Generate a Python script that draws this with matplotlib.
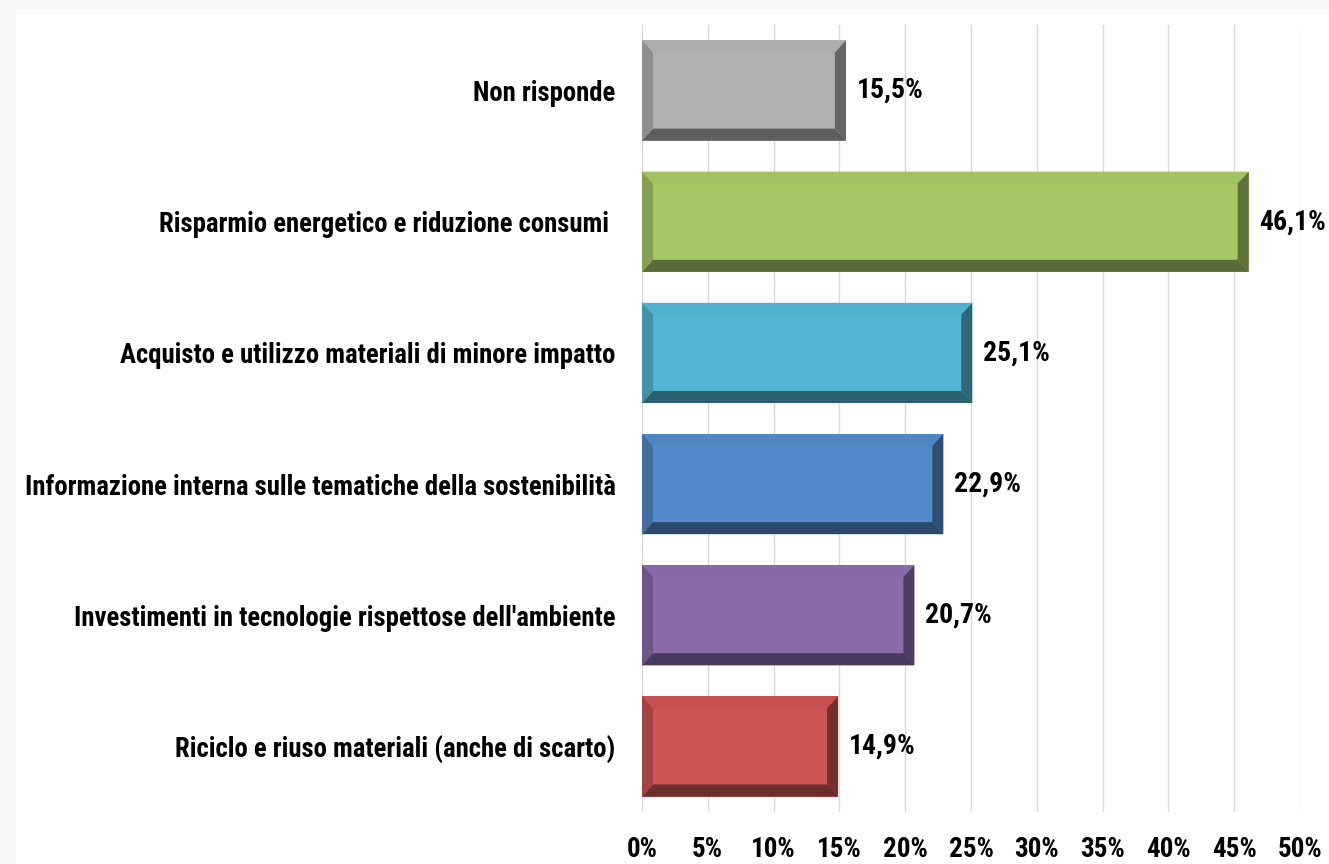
import matplotlib
matplotlib.use("Agg")
import matplotlib.pyplot as plt
from matplotlib import font_manager
from matplotlib.patches import Polygon, Rectangle
from matplotlib.colors import to_rgb
import numpy as np

# Dati (dall'alto verso il basso)
categorie = [
    "Non risponde",
    "Risparmio energetico e riduzione consumi ",
    "Acquisto e utilizzo materiali di minore impatto",
    "Informazione interna sulle tematiche della sostenibilità",
    "Investimenti in tecnologie rispettose dell'ambiente",
    "Riciclo e riuso materiali (anche di scarto)",
]
percentuali = [15.5, 46.1, 25.1, 22.9, 20.7, 14.9]
colori = ["#b1b1b1", "#a6c866", "#52b6d2", "#5589c9", "#8a6cab", "#cc5452"]
tick_valori = [0, 5, 10, 15, 20, 25, 30, 35, 40, 45, 50]

# font stretto, se disponibile
disponibili = {f.name for f in font_manager.fontManager.ttflist}
famiglia = 'DejaVu Sans'
for nome in ['Liberation Sans Narrow', 'Roboto Condensed', 'Open Sans Condensed', 'Liberation Sans']:
    if nome in disponibili:
        famiglia = nome
        break
plt.rcParams['font.family'] = [famiglia, 'DejaVu Sans']
plt.rcParams['font.weight'] = 'bold'


def scurisci(colore, f):
    r, g, b = to_rgb(colore)
    return (min(r * f, 1), min(g * f, 1), min(b * f, 1))


def barra_smussata(ax, y, valore, colore, altezza=0.764, bx=0.84, by=0.092):
    yt = y - altezza / 2
    yb = y + altezza / 2
    # faccia centrale
    ax.add_patch(Rectangle((0, yt), valore, altezza, facecolor=colore, edgecolor='none', zorder=3))
    sopra = [(0, yt), (valore, yt), (valore - bx, yt + by), (bx, yt + by)]
    sotto = [(0, yb), (valore, yb), (valore - bx, yb - by), (bx, yb - by)]
    sinistra = [(0, yt), (bx, yt + by), (bx, yb - by), (0, yb)]
    destra = [(valore, yt), (valore - bx, yt + by), (valore - bx, yb - by), (valore, yb)]
    ax.add_patch(Polygon(sopra, closed=True, facecolor=scurisci(colore, 0.97), edgecolor='none', zorder=4))
    ax.add_patch(Polygon(sotto, closed=True, facecolor=scurisci(colore, 0.53), edgecolor='none', zorder=4))
    ax.add_patch(Polygon(sinistra, closed=True, facecolor=scurisci(colore, 0.80), edgecolor='none', zorder=4))
    ax.add_patch(Polygon(destra, closed=True, facecolor=scurisci(colore, 0.57), edgecolor='none', zorder=4))


fig = plt.figure(figsize=(13.29, 8.64), dpi=100, facecolor='#f7f7f7')

# pannello bianco dietro al grafico
sfondo = fig.add_axes([16 / 1329, 0, 1 - 16 / 1329, 1 - 9 / 864], zorder=-1)
sfondo.axis('off')
sfondo.add_patch(Rectangle((0, 0), 1, 1, transform=sfondo.transAxes, facecolor='white', edgecolor='none'))

ax = fig.add_axes([642 / 1329, 1 - 812 / 864, 658 / 1329, 787 / 864])
ax.set_facecolor('none')

pos = np.arange(len(categorie))
for y, v, c in zip(pos, percentuali, colori):
    barra_smussata(ax, y, v, c)
    ax.text(v + 0.8, y, f"{v:.1f}%".replace('.', ','), va='center', ha='left',
            fontsize=20, fontweight='bold', color='black', zorder=5, clip_on=False)

ax.set_xlim(0, 50)
ax.set_ylim(len(categorie) - 0.5, -0.5)
ax.set_xticks(tick_valori)
ax.set_xticklabels([f"{t}%" for t in tick_valori], fontsize=19.5, fontweight='bold')
ax.set_yticks(pos)
ax.set_yticklabels(categorie, fontsize=19.3, fontweight='bold')
ax.tick_params(axis='both', length=0)
ax.tick_params(axis='x', pad=17)
ax.tick_params(axis='y', pad=19)
ax.grid(axis='x', color='#d9d9d9', linewidth=1.0, zorder=0)
ax.set_axisbelow(True)
for s in ax.spines.values():
    s.set_visible(False)

fig.savefig("out.png", dpi=100, facecolor=fig.get_facecolor())
